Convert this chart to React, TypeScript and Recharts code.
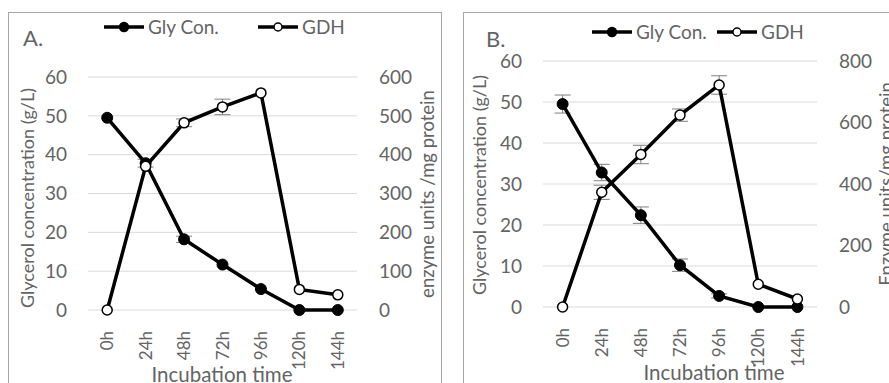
import { LineChart, Line, XAxis, YAxis, CartesianGrid, ErrorBar, Legend } from 'recharts'

const hours = ['0h', '24h', '48h', '72h', '96h', '120h', '144h']

// panel A
const glyA = [49.5, 37.8, 18.2, 11.7, 5.4, 0, 0]
const glyErrA = [0, 1, 0.8, 0, 0, 0, 0]
const gdhA = [0, 370, 482, 523, 559, 53, 39]
const gdhErrA = [0, 0, 10, 20, 0, 0, 0]

// panel B
const glyB = [49.5, 32.8, 22.4, 10.2, 2.7, 0, 0]
const glyErrB = [2.2, 2, 2, 1.5, 0.5, 0, 0]
const gdhB = [0, 373, 496, 624, 722, 74, 26]
const gdhErrB = [0, 23, 30, 20, 30, 0, 0]

const leftTicks = [0, 10, 20, 30, 40, 50, 60]
const rightTicksA = [0, 100, 200, 300, 400, 500, 600]
const rightTicksB = [0, 200, 400, 600, 800]

const FONT = 'Lato, "Open Sans", sans-serif'
const TXT = '#646464'

type Row = { t: string; gly: number; glyErr: number; gdh: number; gdhErr: number }

const buildRows = (gly: number[], glyErr: number[], gdh: number[], gdhErr: number[]): Row[] =>
  hours.map((t, i) => ({ t, gly: gly[i], glyErr: glyErr[i], gdh: gdh[i], gdhErr: gdhErr[i] }))

function HourTick({ x, y, payload }: { x?: number; y?: number; payload?: { value: string } }) {
  if (!payload) return null
  return (
    <text
      transform={`translate(${x},${(y ?? 0) + 13}) rotate(-90)`}
      textAnchor="end"
      dy="0.36em"
      fill={TXT}
      fontSize={17}
      fontFamily={FONT}
    >
      {payload.value}
    </text>
  )
}

function LegendBox({ gap }: { gap: number }) {
  // line with the series marker in the middle, Excel style
  const item = (x: number, filled: boolean, label: string) => (
    <g transform={`translate(${x},0)`}>
      <line x1={0} y1={10} x2={40} y2={10} stroke="#000" strokeWidth={3.5} />
      <circle cx={20} cy={10} r={filled ? 4.5 : 4} fill={filled ? '#000' : '#fff'} stroke="#000" strokeWidth={1.5} />
      <text x={44} y={10} dy="0.36em" fill={TXT} fontSize={19} fontFamily={FONT}>
        {label}
      </text>
    </g>
  )
  return (
    <svg width={260} height={22} style={{ display: 'block', overflow: 'visible' }}>
      {item(0, true, 'Gly Con.')}
      {item(gap, false, 'GDH')}
    </svg>
  )
}

type PanelProps = {
  left: number
  width: number
  rows: Row[]
  rightMax: number
  rightTicks: number[]
  margin: { top: number; right: number; bottom: number; left: number }
  pad: number
  legendPos: { left: number; top: number }
  legendGap: number
}

function Panel({ left, width, rows, rightMax, rightTicks, margin, pad, legendPos, legendGap }: PanelProps) {
  return (
    <div style={{ position: 'absolute', left, top: 0 }}>
      <LineChart width={width} height={383} data={rows} margin={margin}>
        <CartesianGrid vertical={false} stroke="#d9d9d9" strokeWidth={1} />
        <XAxis
          dataKey="t"
          height={60}
          padding={{ left: pad, right: pad }}
          tick={<HourTick />}
          tickLine={false}
          axisLine={false}
          interval={0}
        />
        <YAxis
          domain={[0, 60]}
          ticks={leftTicks}
          width={50}
          tickSize={0}
          tickMargin={21}
          axisLine={false}
          tick={{ fill: TXT, fontSize: 19, fontFamily: FONT }}
        />
        <YAxis
          yAxisId="right"
          orientation="right"
          domain={[0, rightMax]}
          ticks={rightTicks}
          width={50}
          tickSize={0}
          tickMargin={22}
          axisLine={false}
          tick={{ fill: TXT, fontSize: 19, fontFamily: FONT, textAnchor: 'start' }}
        />
        <Legend
          layout="vertical"
          align="center"
          verticalAlign="middle"
          wrapperStyle={{ left: legendPos.left, top: legendPos.top, width: 'auto' }}
          content={() => <LegendBox gap={legendGap} />}
        />
        <Line
          dataKey="gly"
          stroke="#000"
          strokeWidth={3.5}
          dot={{ r: 5.5, fill: '#000', stroke: '#000', strokeWidth: 1 }}
          isAnimationActive={false}
        >
          <ErrorBar dataKey="glyErr" direction="y" width={8} stroke="#7f7f7f" strokeWidth={1} />
        </Line>
        <Line
          yAxisId="right"
          dataKey="gdh"
          stroke="#000"
          strokeWidth={3.5}
          dot={{ r: 5, fill: '#fff', stroke: '#000', strokeWidth: 1.5 }}
          isAnimationActive={false}
        >
          <ErrorBar dataKey="gdhErr" direction="y" width={8} stroke="#7f7f7f" strokeWidth={1} />
        </Line>
      </LineChart>
    </div>
  )
}

export default function App() {
  const rowsA = buildRows(glyA, glyErrA, gdhA, gdhErrA)
  const rowsB = buildRows(glyB, glyErrB, gdhB, gdhErrB)
  return (
    <div style={{ position: 'absolute', left: 0, top: 0, width: 889, height: 383, overflow: 'hidden', background: '#fff' }}>
      <svg width={889} height={383} style={{ position: 'absolute', left: 0, top: 0 }}>
        <rect x={8.5} y={12.5} width={433} height={400} fill="none" stroke="#a6a6a6" />
        <rect x={463.5} y={12.5} width={440} height={400} fill="none" stroke="#a6a6a6" />
        <g fill={TXT} fontFamily={FONT}>
          <text x={23} y={38} dy="0.36em" fontSize={22}>A.</text>
          <text x={486} y={39} dy="0.36em" fontSize={22}>B.</text>
          <text transform="translate(28,198) rotate(-90)" textAnchor="middle" dy="0.36em" fontSize={18}>
            Glycerol concentration (g/L)
          </text>
          <text transform="translate(427,194) rotate(-90)" textAnchor="middle" dy="0.36em" fontSize={18.5}>
            enzyme units /mg protein
          </text>
          <text x={222} y={375} textAnchor="middle" dy="0.36em" fontSize={20.5}>Incubation time</text>
          <text transform="translate(480,185) rotate(-90)" textAnchor="middle" dy="0.36em" fontSize={18}>
            Glycerol concentration (g/L)
          </text>
          <text transform="translate(886,184) rotate(-90)" textAnchor="middle" dy="0.36em" fontSize={18.5}>
            Enzyme units/mg protein
          </text>
          <text x={714} y={373} textAnchor="middle" dy="0.36em" fontSize={20.5}>Incubation time</text>
        </g>
      </svg>
      <Panel
        left={0}
        width={445}
        rows={rowsA}
        rightMax={600}
        rightTicks={rightTicksA}
        margin={{ top: 77, right: 38, bottom: 13, left: 38 }}
        pad={19.2}
        legendPos={{ left: 104, top: 17 }}
        legendGap={154}
      />
      <Panel
        left={445}
        width={444}
        rows={rowsB}
        rightMax={800}
        rightTicks={rightTicksB}
        margin={{ top: 61, right: 22, bottom: 16, left: 48 }}
        pad={19.6}
        legendPos={{ left: 147, top: 22 }}
        legendGap={125}
      />
    </div>
  )
}
